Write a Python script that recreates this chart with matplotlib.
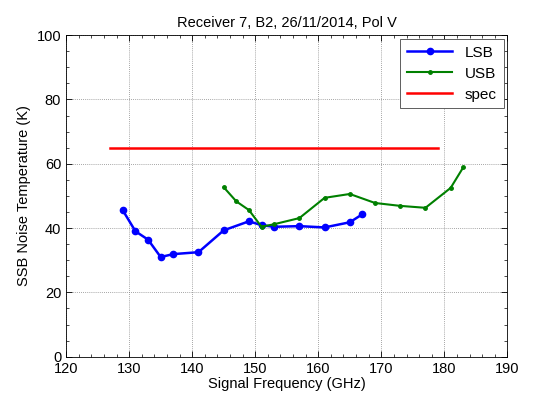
import matplotlib
matplotlib.use('Agg')
import matplotlib.pyplot as plt
from matplotlib.ticker import MultipleLocator

plt.rcParams['font.family'] = ['Liberation Sans', 'DejaVu Sans']

# LSB / USB noise temperature data
lsb_freq = [129, 131, 133, 135, 137, 141, 145, 149, 151, 153, 157, 161, 165, 167]
lsb_temp = [45.5, 39.0, 36.4, 31.0, 31.9, 32.5, 39.3, 42.1, 40.9, 40.4, 40.6, 40.2, 41.8, 44.3]

usb_freq = [145, 147, 149, 151, 153, 157, 161, 165, 169, 173, 177, 181, 183]
usb_temp = [52.7, 48.3, 45.6, 40.4, 41.2, 43.1, 49.4, 50.6, 47.8, 46.9, 46.3, 52.5, 58.9]

spec_freq = [127, 179]
spec_temp = [65, 65]

fig = plt.figure(figsize=(5.33, 3.99), dpi=100)
ax = fig.add_axes([0.124, 0.106, 0.828, 0.806])

ax.plot(lsb_freq, lsb_temp, color='blue', marker='o', markersize=4.5, linewidth=1.8, label='LSB')
ax.plot(usb_freq, usb_temp, color='green', marker='.', markersize=5, linewidth=1.5, label='USB')
ax.plot(spec_freq, spec_temp, color='red', linewidth=1.8, label='spec')

ax.set_xlim(120, 190)
ax.set_ylim(0, 100)
ax.xaxis.set_major_locator(MultipleLocator(10))
ax.yaxis.set_major_locator(MultipleLocator(20))
ax.xaxis.set_minor_locator(MultipleLocator(2))
ax.yaxis.set_minor_locator(MultipleLocator(5))
ax.tick_params(which='both', direction='in', top=True, right=True, labelsize=10.5)
ax.tick_params(which='major', length=4, width=0.6)
ax.tick_params(which='minor', length=2, width=0.5)
ax.grid(True, which='major', linestyle=(0, (1, 1.5)), color='#888888', linewidth=0.6)
for s in ax.spines.values():
    s.set_linewidth(0.6)

ax.set_xlabel('Signal Frequency (GHz)', fontsize=10.5, labelpad=1)
ax.set_ylabel('SSB Noise Temperature (K)', fontsize=10.5, labelpad=4)
ax.set_title('Receiver 7, B2, 26/11/2014, Pol V', fontsize=10.5, pad=6)

leg = ax.legend(loc='upper right', fontsize=11, fancybox=False, framealpha=1,
                edgecolor='#444444', handlelength=3, borderaxespad=0.25,
                labelspacing=0.45, borderpad=0.45)
leg.get_frame().set_linewidth(0.6)

fig.savefig('out.png', dpi=100)
